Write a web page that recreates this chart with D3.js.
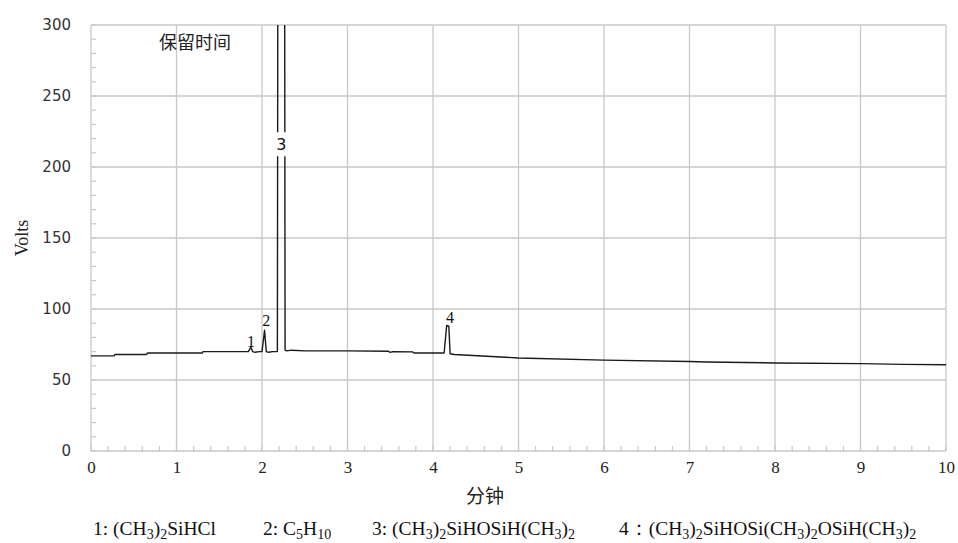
<!DOCTYPE html>
<html><head><meta charset="utf-8">
<script src="https://cdn.jsdelivr.net/npm/d3@7"></script>
<style>body{margin:0;background:#fff;} svg{display:block;}</style>
</head><body>
<svg id="c" width="958" height="543"></svg>
<script>
// ---- data ----
const times  = [0, 0.27, 0.28, 0.65, 0.66, 1.3, 1.31, 1.84, 1.87, 1.89, 1.92, 1.97, 2.0, 2.03, 2.05, 2.08, 2.12, 2.16, 2.18, 2.185, 2.265, 2.27, 2.29, 2.35, 2.5, 3.0, 3.48, 3.5, 3.53, 3.76, 3.78, 4.0, 4.13, 4.16, 4.185, 4.2, 4.25, 5.0, 6.0, 7.0, 7.2, 8.0, 9.0, 9.5, 10.0];
const volts  = [67, 67, 68, 68, 69, 69, 70, 70, 73, 70, 69.5, 70, 70, 85, 70, 69.5, 70, 70, 70, 330, 330, 71, 70.5, 71, 70.5, 70.5, 70.2, 69.5, 70, 69.8, 69, 69, 69, 88.5, 88, 68.5, 68, 65.5, 64, 63, 62.7, 62, 61.5, 61, 60.7];
const xTicks = [0,1,2,3,4,5,6,7,8,9,10];
const yTicks = [0,50,100,150,200,250,300];
const peakLabels = ["1","2","3","4"];
const peakLabelTimes = [1.87, 2.05, 2.225, 4.2];
const peakLabelVolts = [77, 92, 216, 94];
const legendItems = ["1: (CH_3)_2SiHCl", "2: C_5H_{10}", "3: (CH_3)_2SiHOSiH(CH_3)_2", "4：(CH_3)_2SiHOSi(CH_3)_2OSiH(CH_3)_2"];
const xTitle = "分钟", yTitle = "Volts", topText = "保留时间";

// ---- layout ----
const L = 91, R = 946, T = 25, B = 451;
const svg = d3.select("#c");
const x = d3.scaleLinear().domain([0,10]).range([L,R]);
const y = d3.scaleLinear().domain([0,300]).range([B,T]);
const gridC = "#c8c8c8";

// grid
svg.append("g").selectAll("line").data(xTicks.filter(d=>d>0)).join("line")
  .attr("x1",d=>x(d)).attr("x2",d=>x(d)).attr("y1",T).attr("y2",B)
  .attr("stroke",gridC).attr("stroke-width",1.3);
svg.append("g").selectAll("line").data(yTicks.filter(d=>d>0)).join("line")
  .attr("x1",L).attr("x2",R).attr("y1",d=>y(d)).attr("y2",d=>y(d))
  .attr("stroke",gridC).attr("stroke-width",1.3);

// axes lines
svg.append("line").attr("x1",L).attr("x2",L).attr("y1",T).attr("y2",B).attr("stroke",gridC).attr("stroke-width",1.3);
svg.append("line").attr("x1",L).attr("x2",R).attr("y1",B).attr("y2",B).attr("stroke",gridC).attr("stroke-width",1.3);

// minor ticks
svg.append("g").selectAll("line").data(d3.range(0,300.1,10)).join("line")
  .attr("x1",L).attr("x2",L+5).attr("y1",d=>y(d)).attr("y2",d=>y(d))
  .attr("stroke",gridC).attr("stroke-width",1.2);
svg.append("g").selectAll("line").data(d3.range(0,10.01,0.2)).join("line")
  .attr("x1",d=>x(d)).attr("x2",d=>x(d)).attr("y1",B).attr("y2",B-5)
  .attr("stroke",gridC).attr("stroke-width",1.2);

// y tick labels
const yAxis = d3.axisLeft(y).tickValues(yTicks).tickSize(0).tickPadding(20);
const gy = svg.append("g").attr("transform",`translate(${L},0)`).call(yAxis);
gy.select(".domain").remove();
gy.selectAll("text").attr("font-family","DejaVu Sans, Verdana, sans-serif").attr("font-size",15).attr("fill","#333");

// x tick labels
const xAxis = d3.axisBottom(x).tickValues(xTicks).tickSize(0).tickPadding(10);
const gx = svg.append("g").attr("transform",`translate(0,${B})`).call(xAxis);
gx.select(".domain").remove();
gx.selectAll("text").attr("font-family","Liberation Serif, Times New Roman, serif").attr("font-size",17).attr("fill","#222");

// clip
svg.append("clipPath").attr("id","clip").append("rect").attr("x",L).attr("y",T).attr("width",R-L).attr("height",B-T);

// trace
const pts = times.map((t,i)=>[t,volts[i]]);
svg.append("path").datum(pts).attr("clip-path","url(#clip)")
  .attr("d",d3.line().x(d=>x(d[0])).y(d=>y(d[1])))
  .attr("fill","none").attr("stroke","#1a1a1a").attr("stroke-width",1.4).attr("stroke-linejoin","round");

// peak labels
const pl = svg.append("g");
peakLabels.forEach((lab,i)=>{
  const px = x(peakLabelTimes[i]), py = y(peakLabelVolts[i]);
  if (lab==="3") pl.append("rect").attr("x",px-7).attr("y",py-12).attr("width",14).attr("height",24).attr("fill","#fff");
  pl.append("text").attr("x",px).attr("y",py).attr("dy","0.35em").attr("text-anchor","middle")
    .attr("font-family", lab==="3" ? "DejaVu Sans, sans-serif" : "Liberation Serif, serif")
    .attr("font-size",16).attr("fill","#111").text(lab);
});

// texts
svg.append("text").attr("x",195).attr("y",49).attr("text-anchor","middle")
  .attr("font-family","Noto Sans CJK SC, sans-serif").attr("font-size",18).attr("fill","#222").text(topText);
svg.append("text").attr("transform","translate(28,238) rotate(-90)").attr("text-anchor","middle")
  .attr("font-family","Liberation Serif, serif").attr("font-size",18).attr("fill","#222").text(yTitle);
svg.append("text").attr("x",485).attr("y",503).attr("text-anchor","middle")
  .attr("font-family","Noto Sans CJK SC, sans-serif").attr("font-size",19).attr("fill","#222").text(xTitle);

// legend
const legendX = [93, 263, 372, 619];
const lg = svg.append("g").attr("font-family","Liberation Serif, Times New Roman, serif").attr("font-size",19.5).attr("fill","#111");
legendItems.forEach((s,i)=>{
  const t = lg.append("text").attr("x",legendX[i]).attr("y",535);
  const re = /_(\{[^}]*\}|\d)/g;
  let last = 0, m, pend = 0;
  const add = (txt, sub) => {
    const sp = t.append("tspan").text(txt);
    const target = sub ? 4 : 0;
    const d = target - pend;
    if (d !== 0) sp.attr("dy", d);
    if (sub) sp.attr("font-size",14);
    pend = target;
  };
  while ((m = re.exec(s))!==null) {
    if (m.index>last) add(s.slice(last,m.index), false);
    add(m[1].replace(/[{}]/g,""), true);
    last = re.lastIndex;
  }
  if (last<s.length) add(s.slice(last), false);
});
</script>
</body></html>
